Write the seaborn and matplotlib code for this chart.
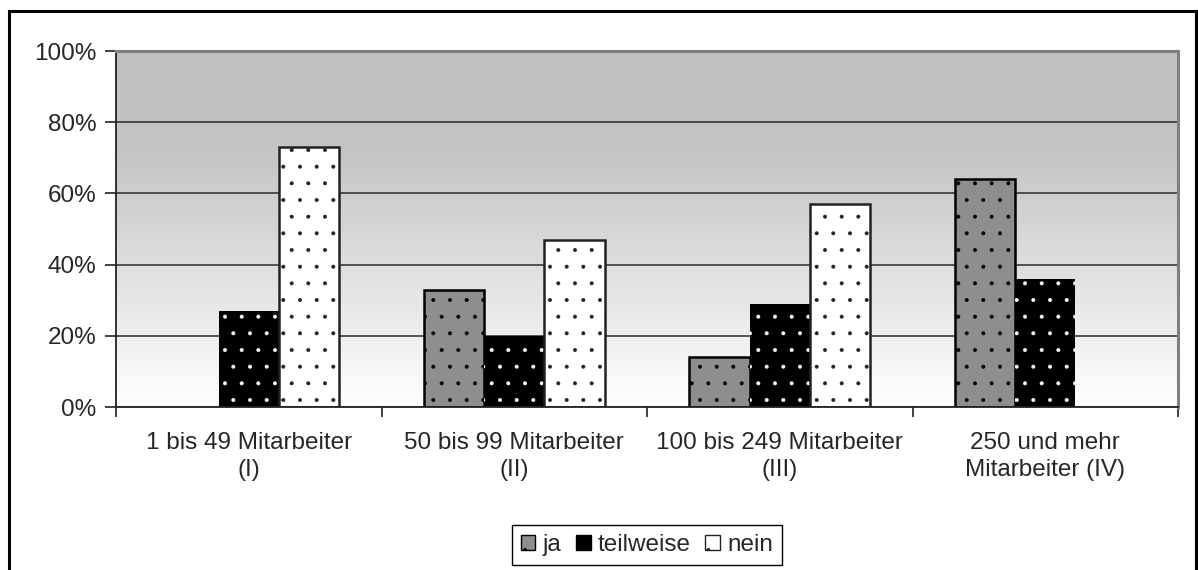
import numpy as np
import pandas as pd
import matplotlib
matplotlib.use("Agg")
import matplotlib.pyplot as plt
from matplotlib.patches import Patch, Rectangle
from matplotlib.ticker import FuncFormatter
from matplotlib.colors import LinearSegmentedColormap
import seaborn as sns

# Survey answers by company size (share of respondents, %)
categories = [
    "1 bis 49 Mitarbeiter\n(I)",
    "50 bis 99 Mitarbeiter\n(II)",
    "100 bis 249 Mitarbeiter\n(III)",
    "250 und mehr\nMitarbeiter (IV)",
]
answers = ["ja", "teilweise", "nein"]
ja = [0, 33, 14, 64]
teilweise = [27, 20, 29, 36]
nein = [73, 47, 57, 0]
y_ticks = [0, 20, 40, 60, 80, 100]

df = pd.DataFrame({
    "Kategorie": categories * 3,
    "Antwort": [a for a in answers for _ in categories],
    "Anteil": ja + teilweise + nein,
})

sns.set_theme(style="white")
plt.rcParams["font.family"] = ["Liberation Sans", "DejaVu Sans"]
plt.rcParams["hatch.linewidth"] = 0.4

W, H = 1198, 570
fig = plt.figure(figsize=(W / 100, H / 100), dpi=100)
fig.patch.set_facecolor("white")
ax = fig.add_axes([116 / W, 1 - 407 / H, 1062 / W, 356 / H])

# bar styles: face colour, hatch colour, hatch pattern
styles = {
    "ja": dict(face="#8e8e8e", hatchcol="black", hatch="."),
    "teilweise": dict(face="black", hatchcol="white", hatch="."),
    "nein": dict(face="white", hatchcol="#222222", hatch="."),
}

sns.barplot(data=df, x="Kategorie", y="Anteil", hue="Antwort",
            order=categories, hue_order=answers, width=0.68,
            ax=ax, legend=False, saturation=1)

for name, cont in zip(answers, ax.containers):
    st = styles[name]
    for bar in cont:
        bar.set_facecolor(st["face"])
        bar.set_hatch(st["hatch"])
        bar.set_edgecolor(st["hatchcol"])
        bar.set_zorder(2)
        if name == "teilweise":
            bar.set_linewidth(0)
        else:
            bar.set_linewidth(1.8)
        if bar.get_height() == 0:
            bar.set_visible(False)

# gray-to-white background gradient of the plot area
grad = np.linspace(0, 1, 256).reshape(-1, 1)
cmap = LinearSegmentedColormap.from_list(
    "bg", [(0.0, "#ffffff"), (0.72, "#c4c4c4"), (1.0, "#c0c0c0")])
ax.imshow(grad, extent=[0, 1, 0, 1], transform=ax.transAxes, origin="lower",
          aspect="auto", cmap=cmap, zorder=0, interpolation="bilinear")

ax.set_xlim(-0.5, len(categories) - 0.5)
ax.set_ylim(0, 100)
ax.set_yticks(y_ticks)
ax.yaxis.set_major_formatter(FuncFormatter(lambda v, p: f"{v:.0f}%"))
ax.set_xlabel("")
ax.set_ylabel("")

ax.set_axisbelow(True)
ax.yaxis.grid(True, color="#2a2a2a", linewidth=1.1, zorder=0.5)
ax.xaxis.grid(False)

ax.set_xticks(range(len(categories)))
ax.set_xticklabels(categories, fontsize=17.5, linespacing=1.3)
ax.set_xticks(np.arange(-0.5, len(categories)), minor=True)
ax.tick_params(axis="x", which="major", length=0, pad=18)
ax.tick_params(axis="x", which="minor", length=7, width=1.2, color="#222222",
               direction="out")
ax.tick_params(axis="y", which="major", length=8, width=1.2, color="#222222",
               direction="out", labelsize=17.5, pad=6)
ax.tick_params(bottom=True, left=True, which="both")

for side in ["left", "bottom"]:
    ax.spines[side].set_color("#222222")
    ax.spines[side].set_linewidth(1.3)
for side in ["top", "right"]:
    ax.spines[side].set_visible(True)
    ax.spines[side].set_color("#808080")
    ax.spines[side].set_linewidth(2.2)

handles = [
    Patch(facecolor=styles[a]["face"], edgecolor=styles[a]["hatchcol"]
          if a != "teilweise" else "black",
          hatch=styles[a]["hatch"] if a != "teilweise" else None,
          linewidth=1.0, label=a)
    for a in answers
]
leg = fig.legend(handles=handles, loc="center", ncol=3,
                 bbox_to_anchor=(647 / W, 1 - 545 / H),
                 fontsize=17.5, frameon=True, fancybox=False,
                 edgecolor="black", framealpha=1,
                 handlelength=0.6, handleheight=0.6, handletextpad=0.3,
                 columnspacing=0.6, borderpad=0.35, borderaxespad=0)
leg.get_frame().set_linewidth(1.0)

# outer chart frame
fig.patches.append(Rectangle((9 / W, -0.02), (1196 - 9) / W, (H - 11) / H + 0.02,
                             transform=fig.transFigure, fill=False,
                             edgecolor="black", linewidth=2.2))

fig.savefig("out.png", dpi=100)
